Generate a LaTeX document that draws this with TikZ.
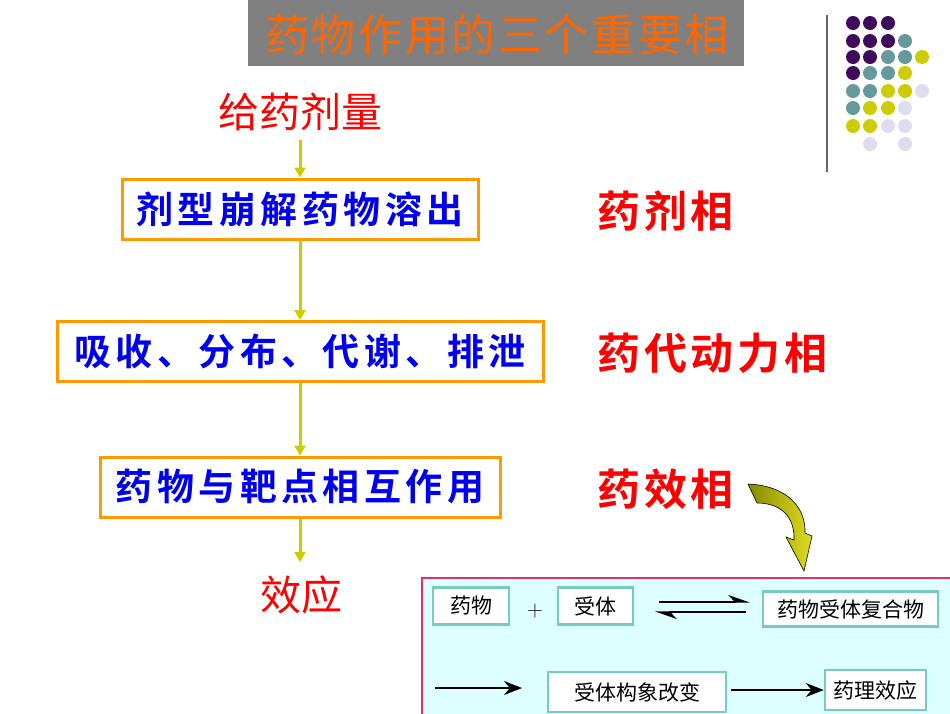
\documentclass[tikz,border=0pt]{standalone}
\usepackage{fontspec}
\newfontfamily\cjk{Noto Sans CJK SC}
\newfontfamily\cjkb{Noto Sans CJK SC}[BoldFont={Noto Sans CJK SC Bold}]
\usetikzlibrary{arrows.meta}
\definecolor{ttl}{HTML}{FF6600}
\definecolor{gbg}{HTML}{808080}
\definecolor{orb}{HTML}{FF9900}
\definecolor{bl}{HTML}{0000EE}
\definecolor{rd}{HTML}{FF0000}
\definecolor{ar}{HTML}{CCCC00}
\definecolor{pu}{HTML}{3D0A5C}
\definecolor{te}{HTML}{669999}
\definecolor{ye}{HTML}{CCCC00}
\definecolor{la}{HTML}{DDDDEE}
\definecolor{pk}{HTML}{E0306A}
\definecolor{cy}{HTML}{DDFFFF}
\definecolor{tb}{HTML}{77CCBB}
\definecolor{ol1}{HTML}{888800}
\definecolor{ol2}{HTML}{DDDD22}
\tikzset{
  flowbox/.style={draw=orb, line width=3pt, fill=white, minimum height=60pt, inner sep=0pt, text=bl, font=\cjkb\bfseries\fontsize{37}{40}\selectfont\addfontfeature{LetterSpace=12}},
  redlab/.style={text=rd, inner sep=0pt, font=\cjkb\bfseries\fontsize{43}{46}\selectfont\addfontfeature{LetterSpace=9}},
  flowarr/.style={draw=ar, line width=3pt, -{Triangle[width=11pt,length=10pt]}},
  dot/.style={circle, minimum size=14pt, inner sep=0pt},
  smbox/.style={draw=tb, line width=2.5pt, fill=white, inner sep=0pt, font=\cjk\fontsize{21}{24}\selectfont},
  blk/.style={line width=1.2pt, -{Stealth[width=14pt,length=18pt]}},
  harp/.style={line width=1.2pt, -{Stealth[width=14pt,length=20pt,left]}}
}
\begin{document}
\begin{tikzpicture}[x=1pt,y=-1pt]
\useasboundingbox (0,0) rectangle (950,713);
\fill[white] (0,0) rectangle (950,713);
% title
\node[fill=gbg, minimum width=496pt, minimum height=66pt, inner sep=0pt, anchor=north west] (title) at (248,0) {};
\node[text=ttl, inner sep=0pt, font=\cjk\fontsize{44}{48}\selectfont\addfontfeature{LetterSpace=6}] (tt) at (497,35) {药物作用的三个重要相};
% decoration
\draw[gray!80!black, line width=1.5pt] (827,15) -- (827,172);
\foreach \c/\x/\y in {pu/853/23,pu/870/23,pu/888/23,
  pu/853/41,pu/870/41,pu/888/41,te/905/41,
  pu/853/57,pu/870/57,te/888/57,te/905/57,ye/922/57,
  pu/853/73,te/870/73,te/888/73,ye/905/73,
  te/853/91,te/870/91,ye/888/91,ye/905/91,la/922/91,
  te/853/108,ye/870/108,ye/888/108,la/905/108,
  ye/853/126,ye/870/126,la/888/126,la/905/126,
  la/870/144,la/905/144}
  \node[dot, fill=\c] at (\x,\y) {};
% flow
\node[text=rd, inner sep=0pt, font=\cjk\fontsize{41}{44}\selectfont] (dose) at (300,112) {给药剂量};
\node[flowbox, minimum width=356pt] (b1) at (300,209) {剂型崩解药物溶出};
\node[flowbox, minimum width=486pt] (b2) at (300,351.5) {吸收、分布、代谢、排泄};
\node[flowbox, minimum width=400pt] (b3) at (300,487) {药物与靶点相互作用};
\node[text=rd, inner sep=0pt, font=\cjk\fontsize{41}{44}\selectfont] (eff) at (301,595) {效应};
\coordinate (d1) at (300,140);
\draw[flowarr] (d1) -- (b1.north);
\draw[flowarr] (b1.south) -- (b2.north);
\draw[flowarr] (b2.south) -- (b3.north);
\coordinate (e1) at (300,562);
\draw[flowarr] (b3.south) -- (e1);
% right labels
\node[redlab, anchor=west] (p1) at (597,211) {药剂相};
\node[redlab, anchor=west] (p2) at (597,353) {药代动力相};
\node[redlab, anchor=west] (p3) at (597,489) {药效相};
% curved arrow
\shade[left color=ol1, right color=ol2, draw=black, line width=0.6pt]
  (748,484) .. controls (790,486) and (806,510) .. (805,533)
  -- (812,536) -- (804,571) -- (786,537) -- (794,540)
  .. controls (795,516) and (780,503) .. (757,503) -- cycle;
% bottom panel
\draw[pk, line width=1.8pt, fill=cy] (422,578) rectangle (960,720);
\node[smbox, minimum width=76pt, minimum height=37pt] (s1) at (471,606) {药物};
\node[inner sep=0pt, font=\fontsize{22}{24}\selectfont] (plus) at (535,611) {+};
\node[smbox, minimum width=75pt, minimum height=37pt] (s2) at (595.5,606) {受体};
\node[smbox, minimum width=175pt, minimum height=35pt] (s3) at (850.5,609) {药物受体复合物};
\node[smbox, minimum width=178pt, minimum height=40pt] (s4) at (637,692) {受体构象改变};
\node[smbox, minimum width=101pt, minimum height=40pt] (s5) at (875.5,690) {药理效应};
\coordinate (eqa) at (659,602);
\coordinate (eqb) at (750,602);
\coordinate (eqc) at (746,612);
\coordinate (eqd) at (655,612);
\draw[harp] (eqa) -- (eqb);
\draw[harp] (eqc) -- (eqd);
\coordinate (st) at (435,688);
\coordinate (sa) at (522,688);
\draw[blk] (st) -- (sa);
\draw[blk] (s4.east) ++(4,-2) coordinate (s4e) -- (s5.west |- s4e);
\end{tikzpicture}
\end{document}
